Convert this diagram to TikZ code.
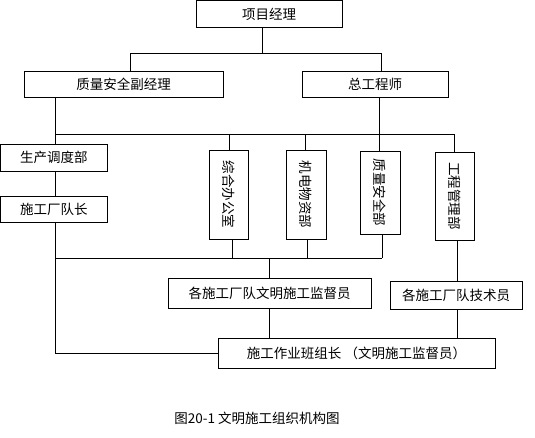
\documentclass[tikz,border=0pt]{standalone}
\usepackage{fontspec}
\setmainfont{Noto Sans CJK SC}
\begin{document}
\begin{tikzpicture}[x=1pt,y=-1pt,line width=0.9pt,
  box/.style={draw,rectangle,inner sep=0pt,font=\fontsize{13.5}{15}\selectfont},
  vbox/.style={box,rotate=-90}]
\useasboundingbox (0,0) rectangle (535,437);
\node[box,minimum width=146pt,minimum height=26.5pt] (pm) at (269,14) {项目经理};
\node[box,minimum width=199pt,minimum height=26pt] (qs) at (123.5,84) {质量安全副经理};
\node[box,minimum width=146pt,minimum height=26pt] (ce) at (375,84) {总工程师};
\node[box,minimum width=106.5pt,minimum height=27pt] (sc) at (53.75,157.5) {生产调度部};
\node[box,minimum width=106.5pt,minimum height=26pt] (sg) at (53.75,209) {施工厂队长};
\node[vbox,minimum width=89pt,minimum height=39pt] (zh) at (228.5,194.5) {综合办公室};
\node[vbox,minimum width=89pt,minimum height=40pt] (jd) at (306,194.5) {机电物资部};
\node[vbox,minimum width=83pt,minimum height=40pt] (zl) at (380,192.5) {质量安全部};
\node[vbox,minimum width=88pt,minimum height=39pt] (gc) at (454.5,196) {工程管理部};
\node[box,minimum width=203pt,minimum height=30pt] (wm) at (269.5,293) {各施工厂队文明施工监督员};
\node[box,minimum width=132pt,minimum height=28pt] (js) at (456,295) {各施工厂队技术员};
\node[box,minimum width=277pt,minimum height=30pt] (bz) at (356.5,353) {施工作业班组长 （文明施工监督员）};
\node[font=\fontsize{13.5}{15}\selectfont] (cap) at (257,418) {图20-1 文明施工组织机构图};
% top level
\coordinate (j1) at (262,53);
\coordinate (jl) at (130,53);
\coordinate (jr) at (381,53);
\draw (pm.south -| j1) -- (j1);
\draw (jl |- qs.north) -- (jl) -- (jr) -- (jr |- ce.north);
% second bus
\coordinate (bl) at (55,134);
\coordinate (br) at (454,134);
\coordinate (c1) at (229,134);
\coordinate (c2) at (305,134);
\coordinate (c3) at (379,134);
\draw (qs.south -| bl) -- (bl) -- (br);
\draw (ce.south -| c3) -- (c3);
\draw (bl) -- (bl |- sc.north);
\draw (c1) -- (c1 |- zh.west);
\draw (c2) -- (c2 |- jd.west);
\draw (c3) -- (c3 |- zl.west);
\draw (br) -- (br |- gc.west);
\draw (sc.south -| bl) -- (sg.north -| bl);
% lower bus
\coordinate (ll) at (55,258);
\coordinate (d1) at (232,258);
\coordinate (d2) at (307,258);
\coordinate (d3) at (382,258);
\coordinate (dm) at (269,258);
\coordinate (dr) at (457,258);
\draw (sg.south -| ll) -- (ll) -- (d3);
\draw (d1 |- zh.east) -- (d1);
\draw (d2 |- jd.east) -- (d2);
\draw (d3 |- zl.east) -- (d3);
\draw (dm) -- (dm |- wm.north);
\draw (wm.south -| dm) -- (bz.north -| dm);
\draw (dr |- gc.east) -- (dr |- js.north);
\draw (js.south -| dr) -- (bz.north -| dr);
\draw (ll) -- (ll |- bz.west) -- (bz.west);
\end{tikzpicture}
\end{document}
